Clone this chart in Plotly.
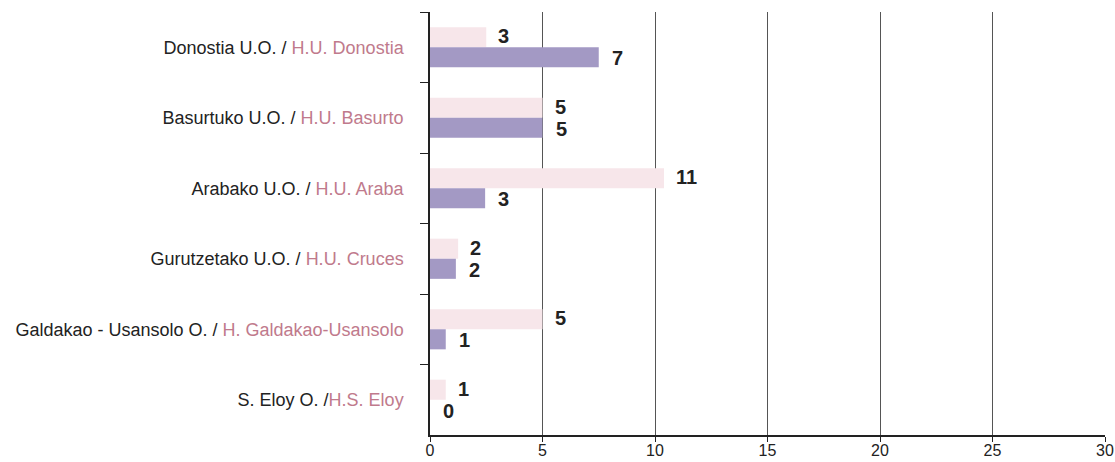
import plotly.graph_objects as go

units_black = ["Donostia U.O. / ", "Basurtuko U.O. / ", "Arabako U.O. / ",
               "Gurutzetako U.O. / ", "Galdakao - Usansolo O. / ", "S. Eloy O. /"]
units_pink = ["H.U. Donostia", "H.U. Basurto", "H.U. Araba",
              "H.U. Cruces", "H. Galdakao-Usansolo", "H.S. Eloy"]

# bar lengths as drawn in the picture
pink_bar = [2.5, 5.0, 10.4, 1.25, 5.0, 0.7]
purple_bar = [7.5, 5.0, 2.45, 1.15, 0.7, 0.0]
# value labels as printed
pink_label = [3, 5, 11, 2, 5, 1]
purple_label = [7, 5, 3, 2, 1, 0]

PINK = "#f7e6ea"
PURPLE = "#a399c4"
PINK_TXT = "#c07a8c"
FONT = "Liberation Sans, Arial"

cats = [f"{b}<span style='color:{PINK_TXT}'>{p}</span>" for b, p in zip(units_black, units_pink)]

fig = go.Figure()
fig.add_trace(go.Bar(y=cats, x=pink_bar, orientation="h", marker_color=PINK,
                     marker_line_width=0, name="pink"))
fig.add_trace(go.Bar(y=cats, x=purple_bar, orientation="h", marker_color=PURPLE,
                     marker_line_width=0, name="purple"))

# value annotations
for i, c in enumerate(cats):
    fig.add_annotation(x=pink_bar[i], y=c, text=f"<b>{pink_label[i]}</b>", showarrow=False,
                       xanchor="left", xshift=10, yshift=11,
                       font=dict(family=FONT, size=20, color="#222"))
    fig.add_annotation(x=purple_bar[i], y=c, text=f"<b>{purple_label[i]}</b>", showarrow=False,
                       xanchor="left", xshift=11, yshift=-11,
                       font=dict(family=FONT, size=20, color="#222"))

fig.update_layout(
    width=1115, height=462,
    margin=dict(l=430, r=10, t=12, b=27, autoexpand=False),
    plot_bgcolor="white", paper_bgcolor="white",
    barmode="group", bargap=0.43, bargroupgap=0.0,
    showlegend=False,
    font=dict(family=FONT, color="#222"),
)
fig.update_xaxes(range=[0, 30], tickvals=[0, 5, 10, 15, 20, 25, 30],
                 showgrid=True, gridcolor="#555", gridwidth=1,
                 showline=True, linecolor="#222", linewidth=1.5,
                 ticks="outside", ticklen=5, tickcolor="#222",
                 tickfont=dict(size=16, color="#222"), zeroline=False,
                 ticklabelstandoff=-5, automargin=False, fixedrange=True)
fig.update_yaxes(autorange="reversed", type="category",
                 showline=True, linecolor="#222", linewidth=1.5,
                 ticks="outside", ticklen=8, tickcolor="#222", tickson="boundaries",
                 showgrid=False, ticklabelstandoff=21, automargin=False,
                 tickfont=dict(size=18, color="#222"))

fig.write_html("out.html", config={"displayModeBar": False},
               post_script="document.body.style.margin='0';document.body.style.overflow='hidden';")
